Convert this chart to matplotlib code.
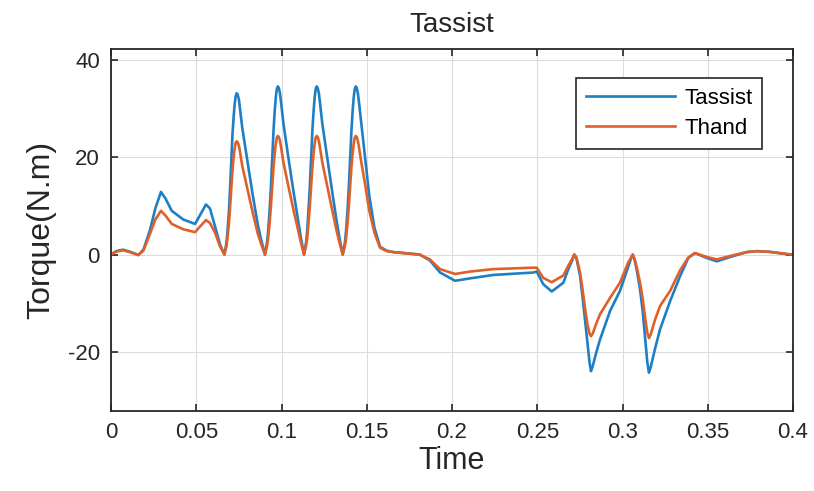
import matplotlib
matplotlib.use('Agg')
import matplotlib.pyplot as plt
import numpy as np

plt.rcParams['font.family'] = ['Liberation Sans', 'DejaVu Sans']
plt.rcParams['axes.unicode_minus'] = False

# 读取自图中的数据点 (时间, Tassist, Thand)
time = [0.000, 0.003, 0.007, 0.011, 0.016, 0.019, 0.0229, 0.026, 0.0293, 0.032,
        0.0356, 0.0424, 0.0493, 0.052, 0.0557, 0.058, 0.061, 0.064, 0.0665,
        # 第1个峰
        0.0677, 0.0683, 0.0691, 0.0698, 0.0705, 0.0712, 0.0719, 0.0725, 0.0731, 0.0737,
        0.0743, 0.0750, 0.0759, 0.0770, 0.0800, 0.0830, 0.0860, 0.0880, 0.0903,
        # 第2个峰
        0.0915, 0.0922, 0.0930, 0.0938, 0.0946, 0.0953, 0.0960, 0.0966, 0.0972, 0.0978,
        0.0984, 0.0991, 0.1000, 0.1011, 0.1040, 0.1070, 0.1100, 0.1115, 0.1132,
        # 第3个峰
        0.1144, 0.1151, 0.1158, 0.1166, 0.1174, 0.1181, 0.1188, 0.1194, 0.1200, 0.1206,
        0.1212, 0.1219, 0.1228, 0.1239, 0.1268, 0.1297, 0.1325, 0.1341, 0.1359,
        # 第4个峰
        0.1372, 0.1379, 0.1387, 0.1395, 0.1403, 0.1410, 0.1417, 0.1423, 0.1429, 0.1435,
        0.1441, 0.1448, 0.1457, 0.1468, 0.1490, 0.1515, 0.1545, 0.1578,
        0.1617, 0.1656, 0.172, 0.181, 0.187, 0.193, 0.2018, 0.2106, 0.2242, 0.2477, 0.2497,
        0.2535, 0.2585, 0.2653, 0.2682, 0.2705, 0.2717, 0.2730, 0.2751,
        0.2765, 0.2780, 0.2795, 0.2807, 0.2815, 0.2825, 0.2845, 0.2868, 0.2927,
        0.2985, 0.3034, 0.3050, 0.3060, 0.3072, 0.3085, 0.3103, 0.3118, 0.3132, 0.3145,
        0.3155, 0.3165, 0.3190, 0.3220, 0.3279, 0.3337, 0.3386, 0.3425,
        0.3494, 0.3553, 0.3631, 0.3728, 0.3787, 0.3865, 0.3963, 0.400]

tassist = [0.0, 0.7, 1.0, 0.6, -0.1, 1.0, 5.1, 9.5, 12.9, 11.5,
           9.0, 7.2, 6.3, 8.0, 10.3, 9.5, 5.8, 2.0, 0.0,
           2.4, 4.8, 8.6, 13.4, 19.2, 24.5, 28.3, 30.9, 32.6, 33.2,
           32.9, 31.9, 29.3, 26.0, 19.2, 12.5, 6.3, 3.1, 0.0,
           2.5, 5.0, 9.0, 14.0, 20.0, 25.5, 29.5, 32.2, 34.0, 34.6,
           34.3, 33.2, 30.5, 27.0, 20.0, 13.0, 6.5, 3.2, 0.0,
           2.5, 5.0, 9.0, 14.0, 20.0, 25.5, 29.5, 32.2, 34.0, 34.6,
           34.3, 33.2, 30.5, 27.0, 20.0, 13.0, 6.5, 3.2, 0.0,
           2.5, 5.0, 9.0, 14.0, 20.0, 25.5, 29.5, 32.2, 34.0, 34.6,
           34.3, 33.2, 30.5, 27.0, 20.0, 12.0, 5.5, 1.6,
           0.8, 0.5, 0.3, 0.0, -1.2, -3.7, -5.4, -4.9, -4.2, -3.7, -3.5,
           -6.1, -7.6, -5.8, -3.0, -1.2, 0.0, -0.8, -4.4,
           -8.5, -13.5, -18.5, -22.3, -24.0, -23.0, -20.3, -17.5, -11.6,
           -7.5, -2.4, -0.8, 0.0, -1.2, -3.5, -7.2, -11.5, -17.0, -22.0,
           -24.3, -23.2, -19.5, -15.4, -9.6, -4.5, -0.7, 0.3,
           -0.7, -1.4, -0.5, 0.5, 0.7, 0.55, 0.1, 0.0]

thand = [0.0, 0.6, 0.9, 0.5, -0.1, 0.8, 4.3, 7.2, 9.0, 8.0,
         6.3, 5.2, 4.6, 5.7, 7.1, 6.5, 4.5, 1.6, 0.0,
         1.7, 3.4, 6.1, 9.6, 13.5, 17.2, 20.0, 21.8, 23.0, 23.3,
         23.1, 22.4, 20.6, 18.2, 13.5, 8.8, 4.4, 2.2, 0.0,
         1.8, 3.5, 6.4, 10.0, 14.1, 18.0, 20.8, 22.7, 24.0, 24.4,
         24.2, 23.4, 21.5, 19.0, 14.1, 9.2, 4.6, 2.3, 0.0,
         1.8, 3.5, 6.4, 10.0, 14.1, 18.0, 20.8, 22.7, 24.0, 24.4,
         24.2, 23.4, 21.5, 19.0, 14.1, 9.2, 4.6, 2.3, 0.0,
         1.8, 3.5, 6.4, 10.0, 14.1, 18.0, 20.8, 22.7, 24.0, 24.4,
         24.2, 23.4, 21.5, 19.0, 14.5, 9.0, 4.5, 1.4,
         0.7, 0.5, 0.3, 0.0, -1.0, -3.0, -4.0, -3.5, -3.0, -2.7, -2.7,
         -4.8, -5.7, -4.3, -2.3, -0.9, 0.0, -0.6, -3.7,
         -7.0, -11.0, -14.5, -16.3, -16.8, -16.3, -14.3, -12.3, -8.9,
         -5.8, -1.6, -0.6, 0.0, -1.0, -2.8, -5.8, -9.0, -12.8, -16.0,
         -17.2, -16.5, -13.5, -10.6, -7.5, -3.3, -0.6, 0.3,
         -0.5, -1.0, -0.3, 0.5, 0.7, 0.55, 0.1, 0.0]

xticks = [0, 0.05, 0.1, 0.15, 0.2, 0.25, 0.3, 0.35, 0.4]
xticklabels = ['0', '0.05', '0.1', '0.15', '0.2', '0.25', '0.3', '0.35', '0.4']
yticks = [-20, 0, 20, 40]

fig = plt.figure(figsize=(8.14, 4.91), dpi=100)
ax = fig.add_axes([0.1364, 0.1629, 0.8378, 0.7373])

ax.plot(time, tassist, color='#1f7fc4', linewidth=1.9, solid_joinstyle='round', label='Tassist')
ax.plot(time, thand, color='#e0602a', linewidth=1.9, solid_joinstyle='round', label='Thand')

ax.set_xlim(0, 0.4)
ax.set_ylim(-32.2, 42.3)
ax.set_xticks(xticks)
ax.set_xticklabels(xticklabels)
ax.set_yticks(yticks)

ax.grid(True, color='#dcdcdc', linewidth=0.8)
ax.set_axisbelow(True)
ax.tick_params(direction='in', length=5, width=1.2, top=True, right=True,
               labelsize=16, colors='#262626', pad=8)
for s in ax.spines.values():
    s.set_color('#262626')
    s.set_linewidth(1.3)

ax.set_title('Tassist', fontsize=20, color='#262626', pad=12)
ax.set_xlabel('Time', fontsize=22, color='#262626', labelpad=2)
ax.set_ylabel('Torque(N.m)', fontsize=23, color='#262626', labelpad=8)

leg = ax.legend(loc='upper right', bbox_to_anchor=(0.955, 0.92), borderaxespad=0,
                fontsize=16, handlelength=4.0, fancybox=False, framealpha=1,
                borderpad=0.45, labelspacing=0.4, handletextpad=0.4)
leg.get_frame().set_edgecolor('#262626')
leg.get_frame().set_linewidth(1.2)

plt.savefig('out.png', dpi=100)
